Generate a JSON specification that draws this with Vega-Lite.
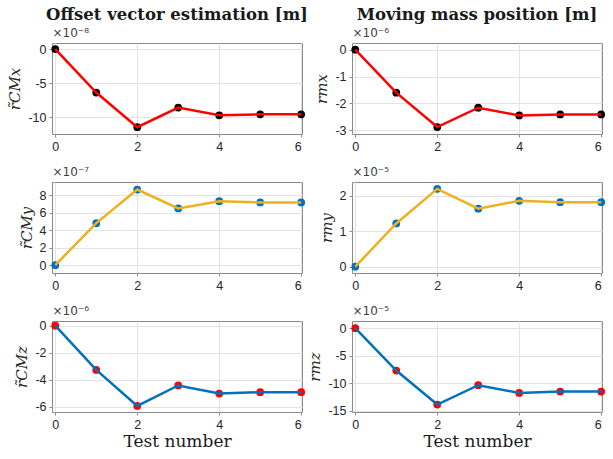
{
  "$schema": "https://vega.github.io/schema/vega-lite/v6.json",
  "background": "white",
  "padding": {"left": 7, "top": 6, "right": 8, "bottom": 6},
  "datasets": {
    "d": [
      {"panel": "rcmx", "test": 0, "value": 0},
      {"panel": "rcmx", "test": 1, "value": -6.4e-8},
      {"panel": "rcmx", "test": 2, "value": -1.15e-7},
      {"panel": "rcmx", "test": 3, "value": -8.6e-8},
      {"panel": "rcmx", "test": 4, "value": -9.75e-8},
      {"panel": "rcmx", "test": 5, "value": -9.6e-8},
      {"panel": "rcmx", "test": 6, "value": -9.6e-8},
      {"panel": "rmx", "test": 0, "value": 0},
      {"panel": "rmx", "test": 1, "value": -1.6e-6},
      {"panel": "rmx", "test": 2, "value": -2.88e-6},
      {"panel": "rmx", "test": 3, "value": -2.16e-6},
      {"panel": "rmx", "test": 4, "value": -2.45e-6},
      {"panel": "rmx", "test": 5, "value": -2.41e-6},
      {"panel": "rmx", "test": 6, "value": -2.41e-6},
      {"panel": "rcmy", "test": 0, "value": 0},
      {"panel": "rcmy", "test": 1, "value": 4.8e-7},
      {"panel": "rcmy", "test": 2, "value": 8.64e-7},
      {"panel": "rcmy", "test": 3, "value": 6.48e-7},
      {"panel": "rcmy", "test": 4, "value": 7.31e-7},
      {"panel": "rcmy", "test": 5, "value": 7.16e-7},
      {"panel": "rcmy", "test": 6, "value": 7.16e-7},
      {"panel": "rmy", "test": 0, "value": 0},
      {"panel": "rmy", "test": 1, "value": 1.22e-5},
      {"panel": "rmy", "test": 2, "value": 2.196e-5},
      {"panel": "rmy", "test": 3, "value": 1.636e-5},
      {"panel": "rmy", "test": 4, "value": 1.86e-5},
      {"panel": "rmy", "test": 5, "value": 1.82e-5},
      {"panel": "rmy", "test": 6, "value": 1.82e-5},
      {"panel": "rcmz", "test": 0, "value": 0},
      {"panel": "rcmz", "test": 1, "value": -3.28e-6},
      {"panel": "rcmz", "test": 2, "value": -5.95e-6},
      {"panel": "rcmz", "test": 3, "value": -4.43e-6},
      {"panel": "rcmz", "test": 4, "value": -5.03e-6},
      {"panel": "rcmz", "test": 5, "value": -4.93e-6},
      {"panel": "rcmz", "test": 6, "value": -4.93e-6},
      {"panel": "rmz", "test": 0, "value": 0},
      {"panel": "rmz", "test": 1, "value": -7.68e-5},
      {"panel": "rmz", "test": 2, "value": -1.385e-4},
      {"panel": "rmz", "test": 3, "value": -1.034e-4},
      {"panel": "rmz", "test": 4, "value": -1.174e-4},
      {"panel": "rmz", "test": 5, "value": -1.15e-4},
      {"panel": "rmz", "test": 6, "value": -1.15e-4}
    ]
  },
  "config": {
    "view": {"stroke": "#8a8a8a", "strokeWidth": 1},
    "axis": {
      "labelFont": "Liberation Sans",
      "labelFontSize": 12.5,
      "labelColor": "#262626",
      "gridColor": "#e3e3e3",
      "gridWidth": 1,
      "domain": false,
      "tickColor": "#8a8a8a",
      "tickSize": 3,
      "labelPadding": 3,
      "titleFont": "DejaVu Serif",
      "titleColor": "#262626"
    },
    "axisY": {"titleFontStyle": "italic", "titleFontWeight": "normal", "titleFontSize": 15, "titlePadding": 5},
    "title": {"font": "DejaVu Serif", "fontWeight": "bold", "fontSize": 16.5, "color": "#1a1a1a", "anchor": "middle", "offset": 3}
  },
  "columns": 2,
  "spacing": {"row": 48, "column": 50},
  "bounds": "flush",
  "concat": [
    {
      "width": 250, "height": 91,
      "title": "Offset vector estimation [m]",
      "data": {"name": "d"},
      "transform": [{"filter": "datum.panel == 'rcmx'"}],
      "encoding": {
        "x": {"field": "test", "type": "quantitative", "scale": {"domain": [-0.08, 6.02], "nice": false, "zero": false}},
        "y": {"field": "value", "type": "quantitative", "scale": {"domain": [-1.25e-7, 0.9e-8], "nice": false, "zero": false}, "axis": {"values": [0, -5e-8, -1e-7], "labelExpr": "'' + round(datum.value * 1e8)", "title": "r̃CMx"}}
      },
      "layer": [
        {"mark": {"type": "point", "filled": true, "size": 60, "color": "#000000", "opacity": 1}, "encoding": {"x": {"field": "test", "type": "quantitative", "axis": {"values": [0, 2, 4, 6], "title": null}}}},
        {"mark": {"type": "line", "color": "#ff0000", "strokeWidth": 2.5}, "encoding": {"x": {"field": "test", "type": "quantitative", "axis": {"orient": "top", "title": "×10⁻⁸", "titleAnchor": "start", "titleFont": "DejaVu Sans", "titleFontSize": 12, "titleFontWeight": "normal", "titleColor": "#404040", "titlePadding": 4, "labels": false, "ticks": false, "grid": false, "domain": false}}}}
      ],
      "resolve": {"axis": {"x": "independent"}}
    },
    {
      "width": 250, "height": 91,
      "title": "Moving mass position [m]",
      "data": {"name": "d"},
      "transform": [{"filter": "datum.panel == 'rmx'"}],
      "encoding": {
        "x": {"field": "test", "type": "quantitative", "scale": {"domain": [-0.08, 6.02], "nice": false, "zero": false}},
        "y": {"field": "value", "type": "quantitative", "scale": {"domain": [-3.14e-6, 0.25e-6], "nice": false, "zero": false}, "axis": {"values": [0, -1e-6, -2e-6, -3e-6], "labelExpr": "'' + round(datum.value * 1e6)", "title": "rmx"}}
      },
      "layer": [
        {"mark": {"type": "point", "filled": true, "size": 60, "color": "#000000", "opacity": 1}, "encoding": {"x": {"field": "test", "type": "quantitative", "axis": {"values": [0, 2, 4, 6], "title": null}}}},
        {"mark": {"type": "line", "color": "#ff0000", "strokeWidth": 2.5}, "encoding": {"x": {"field": "test", "type": "quantitative", "axis": {"orient": "top", "title": "×10⁻⁶", "titleAnchor": "start", "titleFont": "DejaVu Sans", "titleFontSize": 12, "titleFontWeight": "normal", "titleColor": "#404040", "titlePadding": 4, "labels": false, "ticks": false, "grid": false, "domain": false}}}}
      ],
      "resolve": {"axis": {"x": "independent"}}
    },
    {
      "width": 250, "height": 91,
      "data": {"name": "d"},
      "transform": [{"filter": "datum.panel == 'rcmy'"}],
      "encoding": {
        "x": {"field": "test", "type": "quantitative", "scale": {"domain": [-0.08, 6.02], "nice": false, "zero": false}},
        "y": {"field": "value", "type": "quantitative", "scale": {"domain": [-0.9e-7, 9.5e-7], "nice": false, "zero": false}, "axis": {"values": [0, 2e-7, 4e-7, 6e-7, 8e-7], "labelExpr": "'' + round(datum.value * 1e7)", "title": "r̃CMy"}}
      },
      "layer": [
        {"mark": {"type": "point", "filled": true, "size": 60, "color": "#0072BD", "opacity": 1}, "encoding": {"x": {"field": "test", "type": "quantitative", "axis": {"values": [0, 2, 4, 6], "title": null}}}},
        {"mark": {"type": "line", "color": "#EDB120", "strokeWidth": 2.5}, "encoding": {"x": {"field": "test", "type": "quantitative", "axis": {"orient": "top", "title": "×10⁻⁷", "titleAnchor": "start", "titleFont": "DejaVu Sans", "titleFontSize": 12, "titleFontWeight": "normal", "titleColor": "#404040", "titlePadding": 4, "labels": false, "ticks": false, "grid": false, "domain": false}}}}
      ],
      "resolve": {"axis": {"x": "independent"}}
    },
    {
      "width": 250, "height": 91,
      "data": {"name": "d"},
      "transform": [{"filter": "datum.panel == 'rmy'"}],
      "encoding": {
        "x": {"field": "test", "type": "quantitative", "scale": {"domain": [-0.08, 6.02], "nice": false, "zero": false}},
        "y": {"field": "value", "type": "quantitative", "scale": {"domain": [-0.18e-5, 2.39e-5], "nice": false, "zero": false}, "axis": {"values": [0, 1e-5, 2e-5], "labelExpr": "'' + round(datum.value * 1e5)", "title": "rmy"}}
      },
      "layer": [
        {"mark": {"type": "point", "filled": true, "size": 60, "color": "#0072BD", "opacity": 1}, "encoding": {"x": {"field": "test", "type": "quantitative", "axis": {"values": [0, 2, 4, 6], "title": null}}}},
        {"mark": {"type": "line", "color": "#EDB120", "strokeWidth": 2.5}, "encoding": {"x": {"field": "test", "type": "quantitative", "axis": {"orient": "top", "title": "×10⁻⁵", "titleAnchor": "start", "titleFont": "DejaVu Sans", "titleFontSize": 12, "titleFontWeight": "normal", "titleColor": "#404040", "titlePadding": 4, "labels": false, "ticks": false, "grid": false, "domain": false}}}}
      ],
      "resolve": {"axis": {"x": "independent"}}
    },
    {
      "width": 250, "height": 91,
      "data": {"name": "d"},
      "transform": [{"filter": "datum.panel == 'rcmz'"}],
      "encoding": {
        "x": {"field": "test", "type": "quantitative", "scale": {"domain": [-0.08, 6.02], "nice": false, "zero": false}},
        "y": {"field": "value", "type": "quantitative", "scale": {"domain": [-6.4e-6, 0.35e-6], "nice": false, "zero": false}, "axis": {"values": [0, -2e-6, -4e-6, -6e-6], "labelExpr": "'' + round(datum.value * 1e6)", "title": "r̃CMz"}}
      },
      "layer": [
        {"mark": {"type": "point", "filled": true, "size": 60, "color": "#ff0000", "opacity": 1}, "encoding": {"x": {"field": "test", "type": "quantitative", "axis": {"values": [0, 2, 4, 6], "title": "Test number", "titleFontSize": 17, "titleFontWeight": "normal", "titleColor": "#1a1a1a", "titlePadding": 3}}}},
        {"mark": {"type": "line", "color": "#0072BD", "strokeWidth": 2.5}, "encoding": {"x": {"field": "test", "type": "quantitative", "axis": {"orient": "top", "title": "×10⁻⁶", "titleAnchor": "start", "titleFont": "DejaVu Sans", "titleFontSize": 12, "titleFontWeight": "normal", "titleColor": "#404040", "titlePadding": 4, "labels": false, "ticks": false, "grid": false, "domain": false}}}}
      ],
      "resolve": {"axis": {"x": "independent"}}
    },
    {
      "width": 250, "height": 91,
      "data": {"name": "d"},
      "transform": [{"filter": "datum.panel == 'rmz'"}],
      "encoding": {
        "x": {"field": "test", "type": "quantitative", "scale": {"domain": [-0.08, 6.02], "nice": false, "zero": false}},
        "y": {"field": "value", "type": "quantitative", "scale": {"domain": [-1.52e-4, 0.13e-4], "nice": false, "zero": false}, "axis": {"values": [0, -5e-5, -1e-4, -1.5e-4], "labelExpr": "'' + round(datum.value * 1e5)", "title": "rmz"}}
      },
      "layer": [
        {"mark": {"type": "point", "filled": true, "size": 60, "color": "#ff0000", "opacity": 1}, "encoding": {"x": {"field": "test", "type": "quantitative", "axis": {"values": [0, 2, 4, 6], "title": "Test number", "titleFontSize": 17, "titleFontWeight": "normal", "titleColor": "#1a1a1a", "titlePadding": 3}}}},
        {"mark": {"type": "line", "color": "#0072BD", "strokeWidth": 2.5}, "encoding": {"x": {"field": "test", "type": "quantitative", "axis": {"orient": "top", "title": "×10⁻⁵", "titleAnchor": "start", "titleFont": "DejaVu Sans", "titleFontSize": 12, "titleFontWeight": "normal", "titleColor": "#404040", "titlePadding": 4, "labels": false, "ticks": false, "grid": false, "domain": false}}}}
      ],
      "resolve": {"axis": {"x": "independent"}}
    }
  ]
}
